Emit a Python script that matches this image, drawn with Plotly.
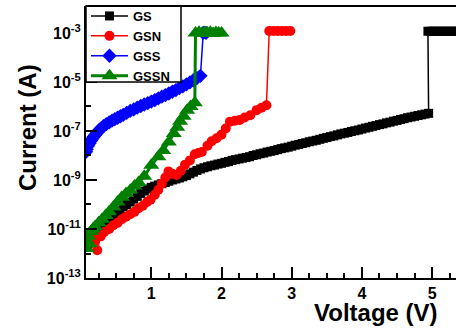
import plotly.graph_objects as go

# ---------------- data (log10 of current in A) ----------------
gs_v = [0.10, 0.15, 0.20, 0.25, 0.30, 0.35, 0.40, 0.45, 0.50, 0.55, 0.60, 0.65, 0.70, 0.75,
        0.80, 0.85, 0.90, 0.95, 1.00, 1.05, 1.10, 1.15, 1.20, 1.25, 1.30, 1.35, 1.40, 1.45,
        1.50, 1.55, 1.60, 1.65, 1.70, 1.75, 1.80, 1.85, 1.90, 1.95, 2.00, 2.05, 2.10, 2.15,
        2.20, 2.25, 2.30, 2.35, 2.40, 2.45, 2.50, 2.55, 2.60, 2.65, 2.70, 2.75, 2.80, 2.85,
        2.90, 2.95, 3.00, 3.05, 3.10, 3.15, 3.20, 3.25, 3.30, 3.35, 3.40, 3.45, 3.50, 3.55,
        3.60, 3.65, 3.70, 3.75, 3.80, 3.85, 3.90, 3.95, 4.00, 4.05, 4.10, 4.15, 4.20, 4.25,
        4.30, 4.35, 4.40, 4.45, 4.50, 4.55, 4.60, 4.65, 4.70, 4.75, 4.80, 4.85, 4.90, 4.95,
        4.94, 4.98, 5.02, 5.06, 5.10, 5.14, 5.18, 5.22, 5.26, 5.30, 5.34, 5.38]
gs_log = [-11.6, -11.4, -11.2, -11.05, -10.9, -10.78, -10.65, -10.5, -10.38, -10.24, -10.1, -10.0, -9.9, -9.78,
          -9.67, -9.55, -9.45, -9.37, -9.3, -9.25, -9.2, -9.15, -9.1, -9.05, -9.0, -8.96, -8.92, -8.87,
          -8.82, -8.75, -8.68, -8.61, -8.55, -8.5, -8.46, -8.42, -8.39, -8.35, -8.32, -8.28, -8.25, -8.2,
          -8.17, -8.14, -8.11, -8.08, -8.05, -8.0, -7.97, -7.93, -7.9, -7.86, -7.83, -7.8, -7.76, -7.72,
          -7.69, -7.66, -7.62, -7.58, -7.55, -7.51, -7.48, -7.44, -7.41, -7.38, -7.34, -7.3, -7.27, -7.23,
          -7.2, -7.16, -7.12, -7.09, -7.06, -7.02, -6.99, -6.96, -6.92, -6.88, -6.85, -6.81, -6.78, -6.74,
          -6.71, -6.67, -6.64, -6.6, -6.57, -6.53, -6.5, -6.46, -6.43, -6.4, -6.37, -6.34, -6.31, -6.28,
          -2.93, -2.93, -2.93, -2.93, -2.93, -2.93, -2.93, -2.93, -2.93, -2.93, -2.93, -2.93]

gsn_v = [0.15, 0.19, 0.23, 0.28, 0.33, 0.40, 0.46, 0.52, 0.58, 0.64, 0.70, 0.76, 0.82, 0.88,
         0.94, 0.99, 1.05, 1.10, 1.15, 1.20, 1.245, 1.30, 1.36, 1.42, 1.48, 1.55, 1.62, 1.67,
         1.72, 1.80, 1.86, 1.93, 2.00, 2.06, 2.12, 2.19, 2.26, 2.33, 2.41, 2.50, 2.57, 2.64,
         2.68, 2.74, 2.80, 2.86, 2.92, 2.98]
gsn_log = [-11.3, -11.5, -11.87, -11.3, -11.12, -11.0, -10.85, -10.75, -10.6, -10.5, -10.4, -10.3, -10.15, -10.05,
           -9.9, -9.8, -9.6, -9.4, -9.15, -8.9, -8.65, -8.75, -8.8, -8.62, -8.38, -8.2, -7.95, -7.9,
           -7.86, -7.6, -7.42, -7.3, -7.15, -6.9, -6.62, -6.58, -6.55, -6.45, -6.36, -6.15, -6.05, -5.95,
           -2.92, -2.92, -2.92, -2.92, -2.92, -2.92]

gss_v = [0.07, 0.08, 0.10, 0.12, 0.14, 0.16, 0.18, 0.20, 0.23, 0.26, 0.29, 0.32, 0.36, 0.40,
         0.44, 0.48, 0.52, 0.56, 0.60, 0.65, 0.70, 0.75, 0.80, 0.85, 0.90, 0.95, 1.00, 1.05,
         1.10, 1.15, 1.20, 1.25, 1.30, 1.35, 1.40, 1.45, 1.50, 1.55, 1.60, 1.65, 1.70, 1.74, 1.78]
gss_log = [-7.85, -7.75, -7.6, -7.5, -7.4, -7.32, -7.24, -7.16, -7.06, -6.96, -6.88, -6.8, -6.72, -6.65,
           -6.58, -6.52, -6.46, -6.4, -6.34, -6.26, -6.18, -6.12, -6.05, -5.98, -5.92, -5.86, -5.8, -5.74,
           -5.67, -5.6, -5.54, -5.47, -5.4, -5.33, -5.25, -5.18, -5.1, -5.02, -4.93, -4.84, -4.75, -3.0, -3.0]

gssn_v = [0.08, 0.10, 0.12, 0.14, 0.17, 0.20, 0.25, 0.30, 0.35, 0.40, 0.46, 0.52, 0.58, 0.64,
          0.70, 0.76, 0.82, 0.90, 1.00, 1.10, 1.17, 1.25, 1.32, 1.37, 1.41, 1.46, 1.51, 1.56,
          1.62, 1.63, 1.68, 1.72, 1.76, 1.80, 1.84, 1.88, 1.92, 1.96, 2.00]
gssn_log = [-11.8, -11.3, -11.6, -11.1, -11.0, -10.9, -10.75, -10.6, -10.45, -10.3, -10.1, -9.9, -9.7, -9.55,
            -9.42, -9.25, -9.1, -8.85, -8.4, -8.05, -7.8, -7.45, -7.1, -6.85, -6.6, -6.4, -6.15, -6.0,
            -5.85, -3.0, -2.97, -3.02, -2.98, -3.0, -2.97, -3.02, -2.98, -3.0, -3.0]

y_tick_exp = [-13, -11, -9, -7, -5, -3]
y_minor_exp = [-12, -10, -8, -6, -4, -2]
x_ticks = [1, 2, 3, 4, 5]

series = [
    ("GS", gs_v, gs_log, "black", "square", 9, 1.5),
    ("GSN", gsn_v, gsn_log, "red", "circle", 10, 1.5),
    ("GSS", gss_v, gss_log, "blue", "diamond", 11, 1.5),
    ("GSSN", gssn_v, gssn_log, "green", "triangle-up", 14, 3),
]

FONT = "Liberation Sans, Arial, sans-serif"
PL, PT, PB = 86, 6, 50
PW, PH = 456 - PL, 328 - PT - PB

fig = go.Figure()
for name, xv, lv, col, sym, ms, lw in series:
    fig.add_trace(go.Scatter(
        x=xv, y=[10 ** e for e in lv], name=name, mode="lines+markers",
        line=dict(color=col, width=lw),
        marker=dict(symbol=sym, size=ms, color=col, line=dict(width=0)),
    ))

fig.update_layout(
    width=456, height=328,
    margin=dict(l=PL, r=0, t=PT, b=PB, autoexpand=False),
    paper_bgcolor="white", plot_bgcolor="white",
    font=dict(family=FONT, color="black", size=14),
    showlegend=True,
    legend=dict(
        x=0, y=1 + 5 / PH, xanchor="left", yanchor="top",
        bgcolor="rgba(0,0,0,0)", borderwidth=0,
        font=dict(family=FONT, size=13, color="black", weight="bold"),
        itemwidth=37, tracegroupgap=0,
    ),
)

fig.update_xaxes(
    range=[0.07, 5.34], showgrid=False, zeroline=False, automargin=False,
    showline=True, linecolor="black", linewidth=2, mirror=False,
    tickmode="array", tickvals=x_ticks, ticktext=[str(t) for t in x_ticks],
    ticks="inside", ticklen=11, tickwidth=2, tickcolor="black",
    tickfont=dict(family=FONT, size=16, color="black", weight="bold"),
    minor=dict(dtick=0.25, tick0=0, ticks="inside", ticklen=5, tickwidth=1.5, tickcolor="black"),
)

fig.update_yaxes(
    type="log", range=[-13, -1.9], showgrid=False, zeroline=False, automargin=False,
    showline=True, linecolor="black", linewidth=2, mirror=False,
    tickmode="array", tickvals=[10 ** e for e in y_tick_exp],
    ticktext=["10<sup>%d</sup>" % e for e in y_tick_exp],
    ticks="inside", ticklen=11, tickwidth=2, tickcolor="black",
    tickfont=dict(family=FONT, size=16, color="black", weight="bold"),
    minor=dict(tickmode="array", tickvals=[10 ** e for e in y_minor_exp],
               ticks="inside", ticklen=5, tickwidth=1.5, tickcolor="black"),
)

# legend frame (white box with black border)
fig.add_shape(type="rect", xref="paper", yref="paper", layer="above",
              x0=0, x1=(181 - PL) / PW, y0=(PT + PH - 82) / PH, y1=1,
              fillcolor="white", line=dict(color="black", width=1.5))
# top frame line
fig.add_shape(type="line", xref="paper", yref="paper", x0=0, x1=1, y0=1, y1=1,
              layer="above", line=dict(color="black", width=2))

fig.add_annotation(text="<b>Voltage (V)</b>", xref="paper", yref="paper",
                   x=(376 - PL) / PW, y=(PT + PH - 312) / PH, xanchor="center", yanchor="middle",
                   showarrow=False, font=dict(family=FONT, size=24, color="black"))
fig.add_annotation(text="<b>Current (A)</b>", xref="paper", yref="paper",
                   x=(28 - PL) / PW, y=(PT + PH - 128) / PH, xanchor="center", yanchor="middle",
                   textangle=-90, showarrow=False, font=dict(family=FONT, size=24, color="black"))

fig.write_html("out.html", config={"displayModeBar": False},
               post_script="document.body.style.margin='0px';document.body.style.padding='0px';")
